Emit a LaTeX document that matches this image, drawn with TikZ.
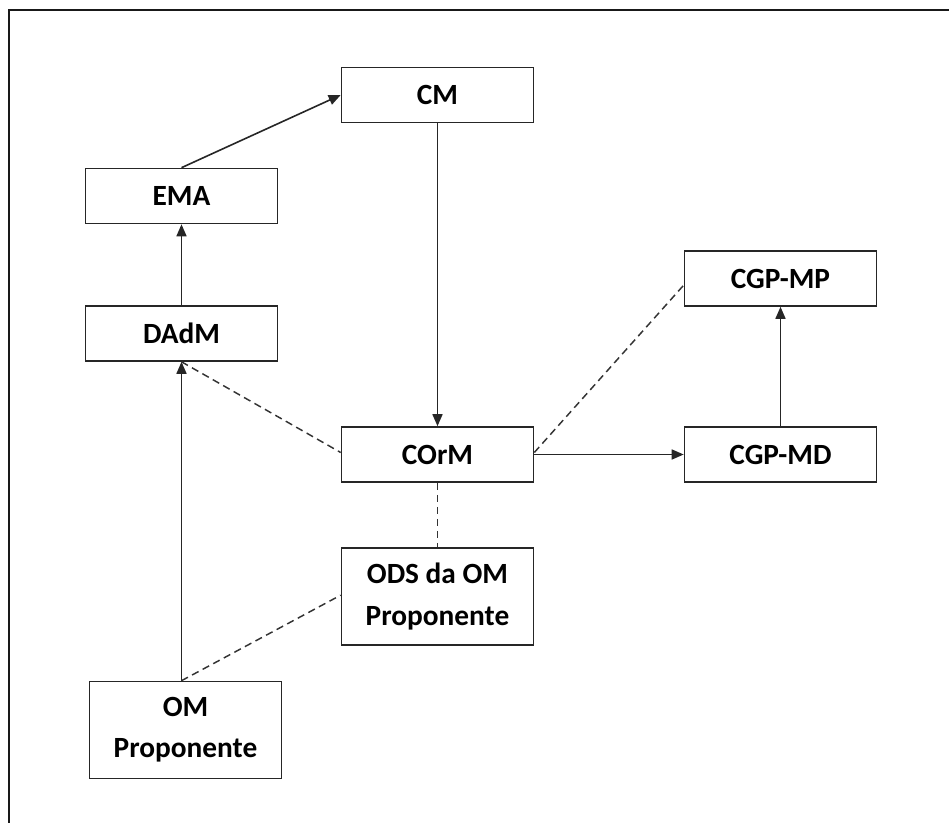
\documentclass[tikz,border=0pt]{standalone}
\usepackage{fontspec}
\setmainfont{Carlito}
\usetikzlibrary{arrows.meta}
\begin{document}
\begin{tikzpicture}[x=0.75pt,y=-0.75pt,
  box/.style={draw=black!85,line width=1.2pt,minimum width=192*0.75pt,minimum height=55*0.75pt,inner sep=0pt,align=center,font=\fontsize{22}{31}\selectfont\bfseries},
  tall/.style={box,minimum height=97*0.75pt},
  conn/.style={draw=black!85,line width=1.2pt},
  arr/.style={conn,-{Triangle[length=9pt,width=7.5pt]}},
  dsh/.style={draw=black!80,line width=1.1pt,dash pattern=on 5.5pt off 3.5pt}]
\useasboundingbox (0,0) rectangle (949,823);
\draw[line width=2.2pt,black!90] (9,823) -- (9,10) -- (949,10);
\node[box] (CM) at (437.5,95) {CM};
\node[box] (EMA) at (181.5,196) {EMA};
\node[box] (DAdM) at (181.5,333.5) {DAdM};
\node[box] (COrM) at (437.5,454.5) {COrM};
\node[box] (CGPMP) at (780.5,278.5) {CGP-MP};
\node[box] (CGPMD) at (780.5,454.5) {CGP-MD};
\node[tall] (ODS) at (437.5,596.5) {ODS da OM\\Proponente};
\node[tall] (OM) at (185.5,730) {OM\\Proponente};
\coordinate (omtop) at (DAdM.south |- OM.north);
\draw[arr] (EMA.north) -- (CM.west);
\draw[arr] (DAdM.north) -- (EMA.south);
\draw[arr] (CM.south) -- (COrM.north);
\draw[arr] (omtop) -- (DAdM.south);
\draw[arr] (COrM.east) -- (CGPMD.west);
\draw[arr] (CGPMD.north) -- (CGPMP.south);
\draw[dsh] (DAdM.south) -- ([yshift=1.5pt]COrM.west);
\draw[dsh] ([yshift=1.5pt]COrM.east) -- ([yshift=-5pt]CGPMP.west);
\draw[dsh] (COrM.south) -- (ODS.north);
\draw[dsh] (omtop) -- ([yshift=1pt]ODS.west);
\end{tikzpicture}
\end{document}
